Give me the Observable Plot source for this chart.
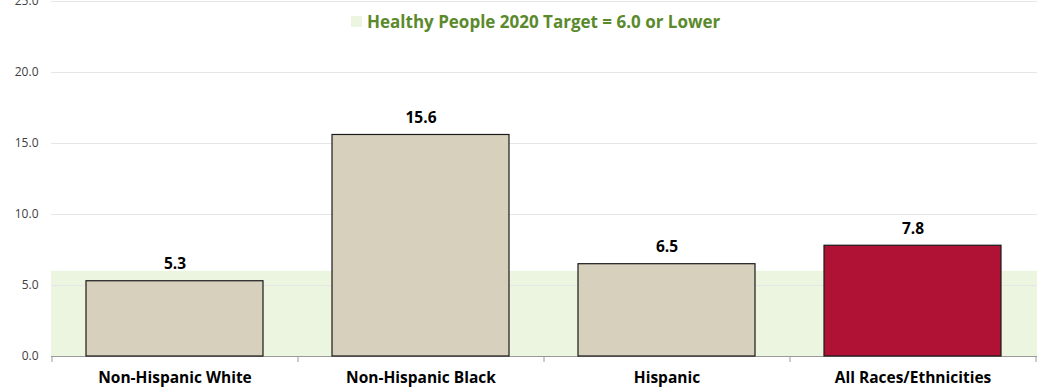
<!DOCTYPE html>
<html><head><meta charset="utf-8">
<script src="https://cdn.jsdelivr.net/npm/d3@7"></script>
<script src="https://cdn.jsdelivr.net/npm/@observablehq/plot@0.6"></script>
<style>
body{margin:0;background:#fff;font-family:"Open Sans",sans-serif}
#wrap{position:relative;width:1043px;height:388px;overflow:hidden;background:#fff}
#legend{position:absolute;left:351px;top:10px;display:flex;align-items:center;white-space:nowrap;
  font-family:"Open Sans",sans-serif;font-weight:700;font-size:17px;color:#5a8a2c}
#legend .sw{width:11px;height:11px;background:#ebf5df;margin-right:5px}
</style></head><body>
<div id="wrap"><div id="chart"></div><div id="legend"><span class="sw"></span><span id="legtext"></span></div></div>
<script>
const categories = ["Non-Hispanic White", "Non-Hispanic Black", "Hispanic", "All Races/Ethnicities"];
const values = [5.3, 15.6, 6.5, 7.8];
const barColors = ["#d6d0bc", "#d6d0bc", "#d6d0bc", "#b01235"];
const target = 6.0;
const yTicks = [0, 5, 10, 15, 20, 25];
const legendLabel = "Healthy People 2020 Target = 6.0 or Lower";

document.getElementById("legtext").textContent = legendLabel;
const data = categories.map((c, i) => ({category: c, value: values[i], color: barColors[i]}));

function make(step) {
  const lastCat = [categories[categories.length - 1]];
  return Plot.plot({
    width: 1043, height: 388,
    marginLeft: 51, marginRight: 6, marginTop: 1, marginBottom: 32,
    style: {fontFamily: "'Open Sans', sans-serif", background: "transparent"},
    x: {domain: categories, paddingInner: 0.28, paddingOuter: 0.14, label: null},
    y: {domain: [0, 25], label: null},
    color: {type: "identity"},
    marks: [
      Plot.rect([target], {y1: 0, y2: d => d, fill: "#ebf5df"}),
      Plot.gridY(yTicks, {stroke: "#e6e6e6", strokeOpacity: 1}),
      Plot.axisY(yTicks, {tickSize: 0, tickPadding: 13, tickFormat: d => d.toFixed(1), fontSize: 12, fill: "#404040"}),
      Plot.axisX({tickSize: 0, tickPadding: 15, fontSize: 15.5, fontWeight: "bold", fill: "#000"}),
      Plot.ruleY([0], {stroke: "#9a9a9a"}),
      Plot.ruleX(categories, {x: d => d, y1: 0, y2: 0, insetBottom: -6, dx: -step / 2, stroke: "#9a9a9a"}),
      Plot.ruleX(lastCat, {x: d => d, y1: 0, y2: 0, insetBottom: -6, dx: step / 2, stroke: "#9a9a9a"}),
      Plot.barY(data, {x: "category", y: "value", fill: "color", stroke: "#1a1a1a", strokeWidth: 1.2}),
      Plot.text(data, {x: "category", y: "value", text: d => d.value.toFixed(1), dy: -12, lineAnchor: "bottom", fontSize: 15.5, fontWeight: "bold", fill: "#000"})
    ]
  });
}
let p = make(0);
const sx = p.scale("x");
const step = sx.step ?? (sx.bandwidth / (1 - 0.28));
p = make(step);
document.getElementById("chart").appendChild(p);
</script></body></html>
